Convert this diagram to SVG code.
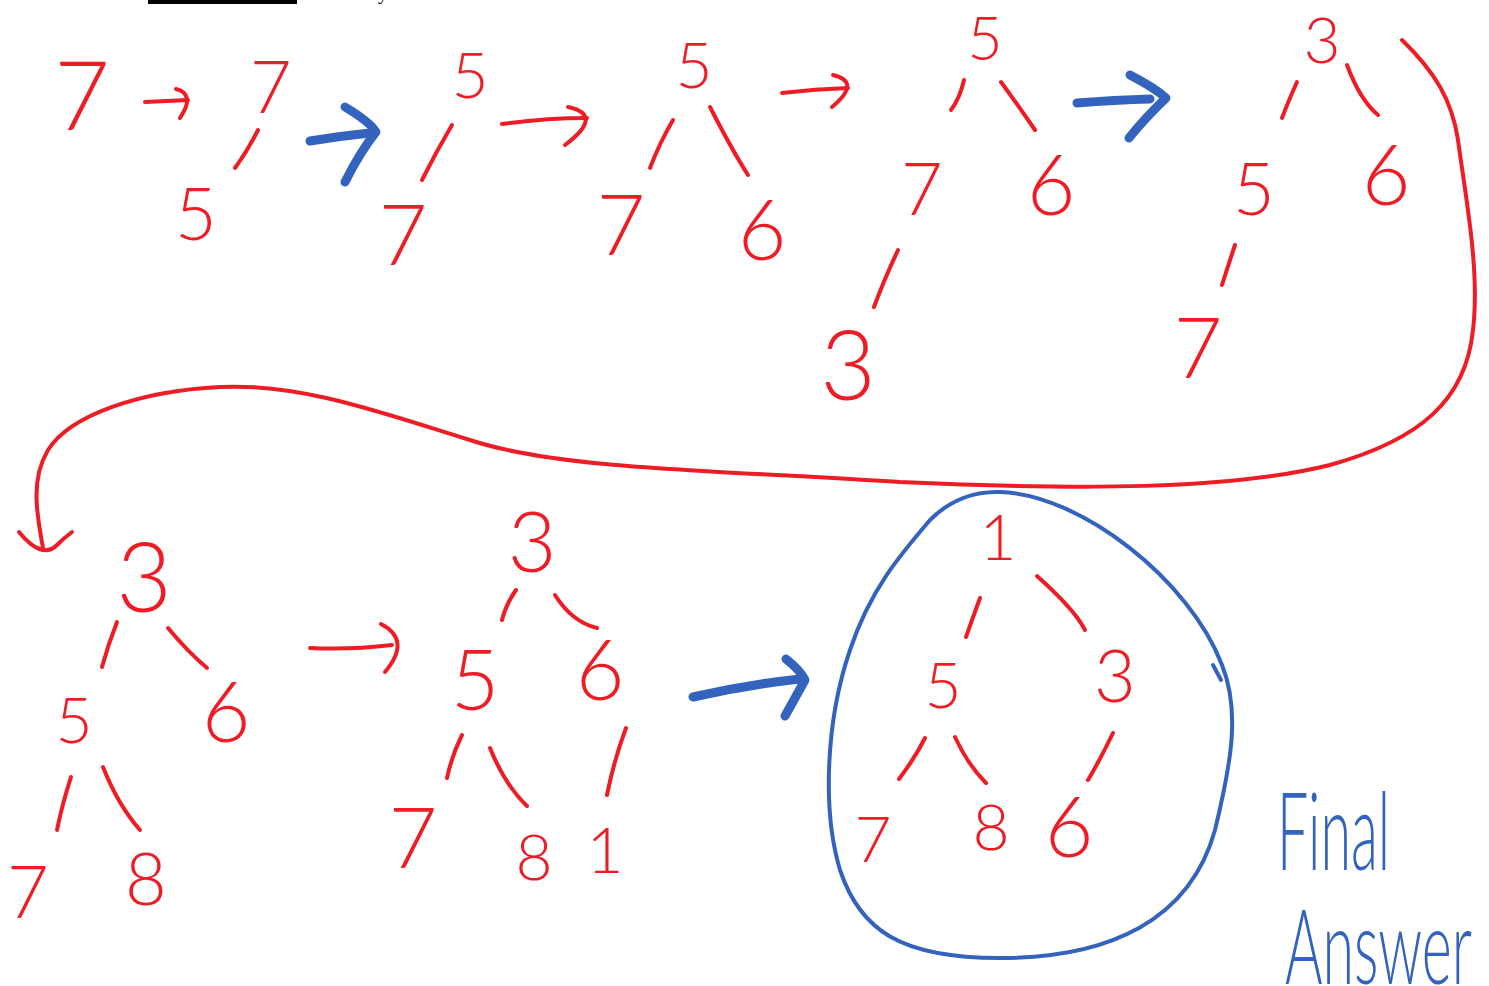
<svg xmlns="http://www.w3.org/2000/svg" width="1489" height="986" viewBox="0 0 1489 986">
<style>
.d{font-family:Lato,"Liberation Sans",Arial,sans-serif;font-weight:300;fill:#ee1c25;text-anchor:middle}
.s{font-size:64px}.m{font-size:72px}.l{font-size:84px}.xl{font-size:96px}
.e{fill:none;stroke:#ee1c25;stroke-width:4;stroke-linecap:round;stroke-linejoin:round}
.b{fill:none;stroke:#3463bd;stroke-width:9;stroke-linecap:round;stroke-linejoin:round}
.c{fill:none;stroke:#3463bd;stroke-width:4;stroke-linecap:round}
.t{font-family:Lato,"Liberation Sans",Arial,sans-serif;font-weight:300;fill:#3463bd}
</style>
<rect width="1489" height="986" fill="#fff"/>
<rect x="148" y="0" width="149" height="4" fill="#000"/>
<text x="378" y="-1" font-family="Liberation Serif,serif" font-size="20" fill="#000">y</text>

<g id="connectors">
  <path class="e" d="M258,130 Q248,150 235,168"/>
  <path class="e" d="M452,125 Q436,152 422,180"/>
  <path class="e" d="M673,120 Q660,142 650,168"/>
  <path class="e" d="M710,107 Q732,150 748,175"/>
  <path class="e" d="M964,80 Q960,98 951,110"/>
  <path class="e" d="M1001,82 Q1020,108 1035,130"/>
  <path class="e" d="M898,250 Q884,280 874,307"/>
  <path class="e" d="M1297,82 Q1288,102 1282,118"/>
  <path class="e" d="M1347,65 Q1360,100 1378,115"/>
  <path class="e" d="M1235,245 Q1228,266 1222,285"/>
  <path class="e" d="M117,622 Q108,645 102,667"/>
  <path class="e" d="M168,628 Q188,652 207,668"/>
  <path class="e" d="M71,777 Q62,805 57,830"/>
  <path class="e" d="M103,767 Q118,805 140,830"/>
  <path class="e" d="M516,590 Q506,604 502,620"/>
  <path class="e" d="M555,595 Q572,622 597,628"/>
  <path class="e" d="M462,735 Q452,755 447,778"/>
  <path class="e" d="M490,748 Q505,785 527,806"/>
  <path class="e" d="M626,728 Q614,760 607,795"/>
  <path class="e" d="M980,598 Q972,620 966,637"/>
  <path class="e" d="M1037,576 Q1075,610 1085,630"/>
  <path class="e" d="M925,738 Q915,758 899,779"/>
  <path class="e" d="M955,737 Q968,765 986,783"/>
  <path class="e" d="M1113,733 Q1100,760 1088,780"/>
  <path class="e" d="M145,102 L188,100"/>
  <path class="e" d="M176,89 Q196,94 180,118"/>
  <path class="e" d="M502,124 Q545,118 587,118"/>
  <path class="e" d="M568,107 Q605,115 565,145"/>
  <path class="e" d="M782,93 Q815,89 848,88"/>
  <path class="e" d="M833,75 Q862,82 832,107"/>
  <path class="e" d="M310,648 Q350,650 392,645"/>
  <path class="e" d="M381,624 Q412,640 385,672"/>
  <path class="b" d="M310,141 Q340,136 370,133"/>
  <path class="b" d="M345,107 Q370,122 376,132 Q360,152 345,182"/>
  <path class="b" d="M1077,103 Q1115,100 1150,99"/>
  <path class="b" d="M1130,75 Q1155,88 1166,98 Q1145,118 1129,138"/>
  <path class="b" d="M693,697 Q745,685 800,679"/>
  <path class="b" d="M786,659 Q800,670 805,680 Q795,698 785,716"/>
  <path class="e" d="M1402,40 C1435,72 1452,100 1458,140 C1466,200 1480,270 1473,330 C1466,400 1420,440 1330,465 C1230,490 1080,490 900,482 C720,470 560,470 470,440 C380,412 300,383 220,387 C140,391 70,415 48,450 C30,480 37,515 43,548"/>
  <path class="e" d="M19,532 Q42,560 57,545 Q64,538 72,532"/>
</g>

<g id="final-circle">
  <path class="c" d="M1000,492 C1080,494 1190,580 1222,665 C1240,710 1232,760 1215,830 C1190,920 1110,958 1000,958 C900,958 860,930 840,870 C822,810 826,720 850,650 C870,590 900,555 930,520 C950,500 975,491 1000,492 Z"/>
  <path class="c" d="M1213,665 L1221,680"/>
</g>

<g id="step1"><text class="d xl" x="82" y="130">7</text></g>
<g id="step2">
  <text class="d m" x="271" y="113">7</text>
  <text class="d m" x="196" y="240">5</text>
</g>
<g id="step3">
  <text class="d s" x="470" y="98">5</text>
  <text class="d l" x="403" y="265">7</text>
</g>
<g id="step4">
  <text class="d s" x="694" y="88">5</text>
  <text class="d l" x="621" y="255">7</text>
  <text class="d l" x="762" y="260">6</text>
</g>
<g id="step5">
  <text class="d" x="985" y="60" font-size="61">5</text>
  <text class="d m" x="922" y="215">7</text>
  <text class="d l" x="1051" y="215">6</text>
  <text class="d xl" x="848" y="400">3</text>
</g>
<g id="step6">
  <text class="d" x="1322" y="63" font-size="64">3</text>
  <text class="d m" x="1254" y="215">5</text>
  <text class="d l" x="1386" y="205">6</text>
  <text class="d l" x="1198" y="378">7</text>
</g>
<g id="step7">
  <text class="d xl" x="144" y="612">3</text>
  <text class="d s" x="74" y="743">5</text>
  <text class="d l" x="226" y="742">6</text>
  <text class="d m" x="28" y="918">7</text>
  <text class="d m" x="146" y="905">8</text>
</g>
<g id="step8">
  <text class="d l" x="532" y="572">3</text>
  <text class="d l" x="475" y="710">5</text>
  <text class="d l" x="600" y="700">6</text>
  <text class="d l" x="413" y="868">7</text>
  <text class="d s" x="534" y="880">8</text>
  <text class="d s" x="605" y="873">1</text>
</g>
<g id="step9">
  <text class="d s" x="998" y="560">1</text>
  <text class="d s" x="943" y="708">5</text>
  <text class="d m" x="1115" y="702">3</text>
  <text class="d s" x="873" y="862">7</text>
  <text class="d s" x="991" y="850">8</text>
  <text class="d l" x="1069" y="857">6</text>
</g>
<g id="label">
  <text class="t" x="1277" y="870" font-size="108" textLength="113" lengthAdjust="spacingAndGlyphs">Final</text>
  <text class="t" x="1285" y="984" font-size="104" textLength="187" lengthAdjust="spacingAndGlyphs">Answer</text>
</g>
</svg>
